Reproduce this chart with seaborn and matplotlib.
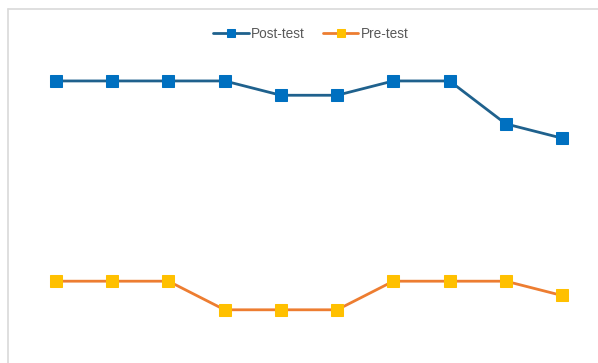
import matplotlib
matplotlib.use("Agg")
import matplotlib.pyplot as plt
import seaborn as sns
import pandas as pd
from matplotlib.lines import Line2D

# Values (no visible axis, estimated on a 0.1 step)
items = list(range(1, 11))
post_test = [4.8, 4.8, 4.8, 4.8, 4.7, 4.7, 4.8, 4.8, 4.5, 4.4]
pre_test = [3.4, 3.4, 3.4, 3.2, 3.2, 3.2, 3.4, 3.4, 3.4, 3.3]

df = pd.DataFrame({"item": items, "Post-test": post_test, "Pre-test": pre_test})

sns.set_style("white")
plt.rcParams["font.family"] = ["Liberation Sans", "DejaVu Sans"]

fig = plt.figure(figsize=(5.98, 3.63), dpi=100)
ax = fig.add_axes([0, 0, 1, 1])

sns.lineplot(data=df, x="item", y="Post-test", ax=ax, color="#1F618D", linewidth=2,
             marker="s", markersize=8, markerfacecolor="#0070C0",
             markeredgecolor="#0070C0", label="Post-test")
sns.lineplot(data=df, x="item", y="Pre-test", ax=ax, color="#ED7D31", linewidth=2,
             marker="s", markersize=8, markerfacecolor="#FFC000",
             markeredgecolor="#FFC000", label="Pre-test")

ax.set_xlim(1 - 0.996, 10 + 0.64)
ax.set_ylim(2.828, 5.366)
ax.axis("off")

leg = ax.legend(loc="center", bbox_to_anchor=(0.52, 0.906), ncol=2, frameon=False,
                fontsize=9.8, handlelength=2.6, columnspacing=1.3, handletextpad=0.2,
                markerscale=0.75)
for t in leg.get_texts():
    t.set_color("#595959")

# chart border (top-left visible, rest cropped)
fig.add_artist(Line2D([8 / 598, 1], [1 - 9 / 363, 1 - 9 / 363], color="#D9D9D9", lw=1.2))
fig.add_artist(Line2D([8 / 598, 8 / 598], [0, 1 - 9 / 363], color="#D9D9D9", lw=1.2))

fig.savefig("out.png", dpi=100)
